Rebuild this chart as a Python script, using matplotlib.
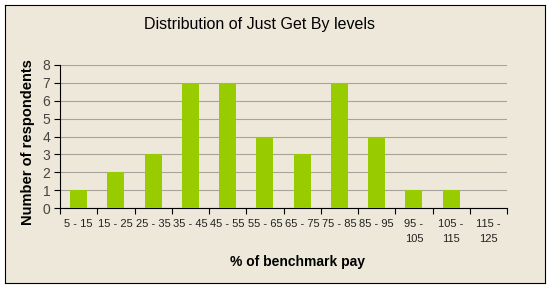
import matplotlib
matplotlib.use("Agg")
from matplotlib import pyplot as plt
import numpy as np

plt.rcParams['font.family'] = ['Liberation Sans', 'DejaVu Sans']

# data
categories = ['5 - 15', '15 - 25', '25 - 35', '35 - 45', '45 - 55', '55 - 65',
              '65 - 75', '75 - 85', '85 - 95', '95 -\n105', '105 -\n115', '115 -\n125']
counts = [1, 2, 3, 7, 7, 4, 3, 7, 4, 1, 1, 0]

bg = '#EEE8DA'
W, H = 553, 289
fig = plt.figure(figsize=(W / 100, H / 100), dpi=100)
fig.patch.set_facecolor('white')

# chart area frame (background axes)
frame = fig.add_axes([5 / W, 1 - 283 / H, 540 / W, 278 / H], zorder=-1)
frame.set_facecolor(bg)
frame.set_xticks([])
frame.set_yticks([])
for s in frame.spines.values():
    s.set_linewidth(0.8)
    s.set_color('black')

ax = fig.add_axes([60 / W, 1 - 208 / H, 447 / W, 143 / H])
ax.patch.set_alpha(0)

x = np.arange(len(categories))
ax.bar(x, counts, width=0.46, color='#99CC00', zorder=3)

ax.set_xlim(-0.5, len(categories) - 0.5)
ax.set_ylim(0, 8)
ax.set_yticks(range(0, 9))
ax.yaxis.grid(True, color='#A6A39A', linewidth=0.8, zorder=0)
ax.set_axisbelow(True)

ax.set_xticks(x)
ax.set_xticklabels(categories, fontsize=8, linespacing=1.6, color='#222222')
ax.set_xticks(np.arange(-0.5, len(categories), 1), minor=True)
ax.tick_params(axis='x', which='major', length=0, pad=8)
ax.tick_params(axis='x', which='minor', length=4, width=0.8, direction='out')
ax.tick_params(axis='y', length=4, width=0.8, labelsize=10, pad=3,
               labelcolor='#444444')

for s in ['top', 'right']:
    ax.spines[s].set_visible(False)
ax.spines['left'].set_linewidth(0.8)
ax.spines['bottom'].set_linewidth(0.8)

fig.text(260 / W, 1 - 25 / H, 'Distribution of Just Get By levels',
         ha='center', va='center', fontsize=11.5)
fig.text(298 / W, 1 - 262 / H, '% of benchmark pay', ha='center', va='center',
         fontsize=10, fontweight='bold')
fig.text(28 / W, 1 - 142 / H, 'Number of respondents', ha='center', va='center',
         rotation=90, fontsize=10.5, fontweight='bold')

fig.savefig('out.png', dpi=100, facecolor='white')
